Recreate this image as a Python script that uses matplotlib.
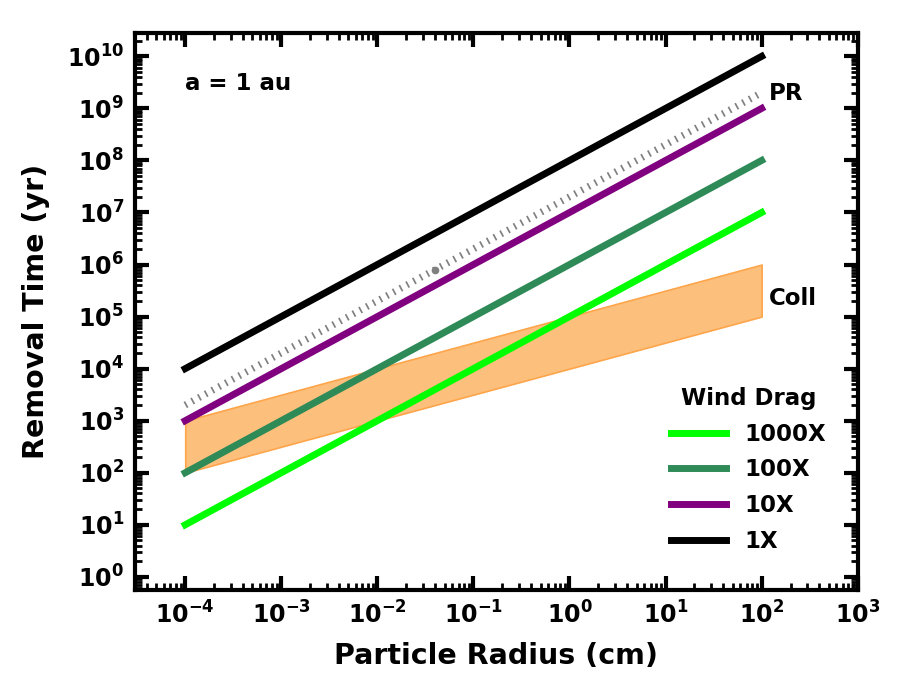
import numpy as np
import matplotlib
matplotlib.use("Agg")
import matplotlib.pyplot as plt
from matplotlib.ticker import NullFormatter, FixedLocator

# Data
radius = [1e-4, 1e2]
t_1x = [1e4, 1e10]
t_10x = [1e3, 1e9]
t_100x = [1e2, 1e8]
t_1000x = [1e1, 1e7]
t_pr = [2e3, 2e9]
pr_marker_x = [0.04]
pr_marker_y = [8e5]
coll_lower = [1e2, 1e5]
coll_upper = [1e3, 1e6]
x_decades = list(range(-4, 4))
y_decades = list(range(0, 11))

plt.rcParams['font.family'] = ['DejaVu Sans']
plt.rcParams['font.weight'] = 'bold'

fig = plt.figure(figsize=(9, 6.75), dpi=100)
ax = fig.add_axes([0.150, 0.126, 0.803, 0.825])
ax.set_xscale('log')
ax.set_yscale('log')

ax.fill_between(radius, coll_lower, coll_upper, color='#fdbf7c', edgecolor='#fda54a', linewidth=1.2, zorder=1)
ax.plot(radius, t_pr, color='gray', linewidth=5, linestyle=(0, (0.25, 0.85)), zorder=2)
ax.plot(pr_marker_x, pr_marker_y, 'o', color='gray', markersize=4.5, zorder=2)

l1, = ax.plot(radius, t_1000x, color='#00ff00', linewidth=5, label='1000X', zorder=3)
l2, = ax.plot(radius, t_100x, color='#2e8b57', linewidth=5, label='100X', zorder=3)
l3, = ax.plot(radius, t_10x, color='#800080', linewidth=5, label='10X', zorder=3)
l4, = ax.plot(radius, t_1x, color='black', linewidth=5, label='1X', zorder=3)

ax.set_xlim(3e-5, 1e3)
ax.set_ylim(0.56, 2.8e10)

xmaj = [10.0 ** d for d in x_decades]
ymaj = [10.0 ** d for d in y_decades]
xmin = [m * 10.0 ** d for d in range(-5, 3) for m in range(2, 10) if 3e-5 <= m * 10.0 ** d <= 1e3]
ymin = [m * 10.0 ** d for d in range(-1, 11) for m in range(2, 10) if 0.56 <= m * 10.0 ** d <= 2.8e10]
ax.set_xticks(xmaj)
ax.set_xticklabels([r'$\mathbf{10^{%d}}$' % d for d in x_decades])
ax.set_yticks(ymaj)
ax.set_yticklabels([r'$\mathbf{10^{%d}}$' % d for d in y_decades])
ax.xaxis.set_minor_locator(FixedLocator(xmin))
ax.yaxis.set_minor_locator(FixedLocator(ymin))
ax.xaxis.set_minor_formatter(NullFormatter())
ax.yaxis.set_minor_formatter(NullFormatter())

for s in ax.spines.values():
    s.set_linewidth(3)
ax.tick_params(which='major', direction='in', length=10, width=3, top=True, right=True,
               labelsize=17, pad=8)
ax.tick_params(which='minor', direction='in', length=5, width=2, top=True, right=True)

ax.set_xlabel('Particle Radius (cm)', fontsize=20.5, fontweight='bold', labelpad=10)
ax.set_ylabel('Removal Time (yr)', fontsize=20.5, fontweight='bold', labelpad=12)

ax.text(1e-4, 3e9, 'a = 1 au', fontsize=16.5, fontweight='bold', ha='left', va='center')
ax.text(1.2e2, 1.9e9, 'PR', fontsize=16.5, fontweight='bold', ha='left', va='center')
ax.text(1.2e2, 2.2e5, 'Coll', fontsize=16.5, fontweight='bold', ha='left', va='center')

leg = ax.legend(handles=[l1, l2, l3, l4], title='Wind Drag', loc='lower right',
                bbox_to_anchor=(0.985, 0.03), frameon=False,
                title_fontproperties={'weight': 'bold', 'size': 16.5},
                prop={'weight': 'bold', 'size': 16.5}, handlelength=2.4, labelspacing=0.55,
                handletextpad=0.8)

fig.savefig('out.png', dpi=100)
